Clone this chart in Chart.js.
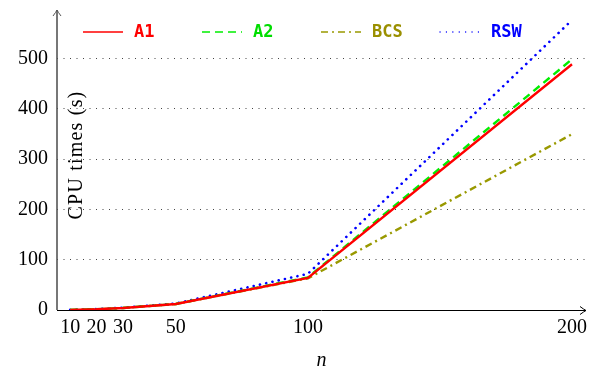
<!DOCTYPE html>
<html>
<head>
<meta charset="utf-8">
<script src="https://cdn.jsdelivr.net/npm/chart.js@4"></script>
<style>
  html, body { margin: 0; padding: 0; background: #fff; }
  #wrap { width: 596px; height: 373px; }
</style>
</head>
<body>
<div id="wrap"><canvas id="myChart" width="596" height="373"></canvas></div>
<script>
// values
var sizes = [10, 20, 30, 50, 100, 200];
var xTicks = [10, 20, 30, 50, 100, 200];
var yTicks = [0, 100, 200, 300, 400, 500];
var seriesNames = ['A1', 'A2', 'BCS', 'RSW'];
var a1 = [0.3, 1.5, 4, 12, 64, 489];
var a2 = [0.3, 1.5, 4, 12, 65, 499];
var bcs = [0.3, 1.5, 4, 12, 63, 350];
var rsw = [0.4, 1.8, 4.5, 13, 72, 577];

var serif = '"Liberation Serif", "DejaVu Serif", serif';

function toPoints(vals) {
    return sizes.map(function(x, i) { return {x: x, y: vals[i]}; });
}

// axes with arrow heads, y title inside plot, legend row inside plot
var extras = {
    id: 'extras',
    afterDatasetsDraw: function(chart) {
        var ctx = chart.ctx;
        var a = chart.chartArea;
        ctx.save();
        // y axis
        ctx.strokeStyle = '#555';
        ctx.lineWidth = 1.6;
        ctx.beginPath();
        ctx.moveTo(a.left, a.bottom);
        ctx.lineTo(a.left, a.top);
        ctx.stroke();
        ctx.beginPath();
        ctx.moveTo(a.left - 4, a.top + 6);
        ctx.quadraticCurveTo(a.left - 1, a.top + 2, a.left, a.top);
        ctx.quadraticCurveTo(a.left + 1, a.top + 2, a.left + 4, a.top + 6);
        ctx.lineWidth = 1;
        ctx.stroke();
        // x axis
        ctx.strokeStyle = '#000';
        ctx.lineWidth = 1;
        ctx.beginPath();
        ctx.moveTo(a.left, a.bottom + 0.5);
        ctx.lineTo(a.right, a.bottom + 0.5);
        ctx.stroke();
        ctx.beginPath();
        ctx.moveTo(a.right - 6, a.bottom - 3.5);
        ctx.quadraticCurveTo(a.right - 2, a.bottom - 0.5, a.right, a.bottom + 0.5);
        ctx.quadraticCurveTo(a.right - 2, a.bottom + 1.5, a.right - 6, a.bottom + 4.5);
        ctx.stroke();

        // y title
        ctx.fillStyle = '#000';
        ctx.font = '20px ' + serif;
        ctx.letterSpacing = '1.2px';
        ctx.textAlign = 'center';
        ctx.textBaseline = 'middle';
        ctx.translate(a.left + 20, 155);
        ctx.rotate(-Math.PI / 2);
        ctx.fillText('CPU times (s)', 0, 0);
        ctx.restore();

        // legend
        ctx.save();
        chart.data.datasets.forEach(function(ds, i) {
            var x0 = 83 + i * 119;
            var y0 = 32;
            ctx.strokeStyle = ds.borderColor;
            ctx.lineWidth = 1.3;
            ctx.lineCap = ds.borderCapStyle || 'butt';
            ctx.setLineDash(ds.borderDash || []);
            ctx.beginPath();
            ctx.moveTo(x0, y0);
            ctx.lineTo(x0 + 40, y0);
            ctx.stroke();
            ctx.fillStyle = ds.textColor;
            ctx.font = 'bold 17px "DejaVu Sans Mono", monospace';
            ctx.textAlign = 'left';
            ctx.textBaseline = 'middle';
            ctx.fillText(ds.label, x0 + 51, y0 + 1);
        });
        ctx.restore();
    }
};

new Chart(document.getElementById('myChart'), {
    type: 'line',
    data: {
        datasets: [
            {
                label: seriesNames[0], data: toPoints(a1),
                borderColor: '#ff0000', textColor: '#ff0000',
                borderWidth: 2.4
            },
            {
                label: seriesNames[1], data: toPoints(a2),
                borderColor: '#00ee00', textColor: '#00dd00',
                borderWidth: 2.4, borderDash: [8, 5]
            },
            {
                label: seriesNames[2], data: toPoints(bcs),
                borderColor: '#999900', textColor: '#9a8f00',
                borderWidth: 2.4, borderDash: [7, 4, 2, 4]
            },
            {
                label: seriesNames[3], data: toPoints(rsw),
                borderColor: '#0000ff', textColor: '#0000ff',
                borderWidth: 2.6, borderDash: [0.1, 6.3], borderCapStyle: 'round'
            }
        ]
    },
    options: {
        responsive: false,
        animation: false,
        layout: { padding: { top: 10, right: 10, left: 0, bottom: 0 } },
        elements: { point: { radius: 0 }, line: { tension: 0 } },
        plugins: { legend: { display: false }, tooltip: { enabled: false } },
        scales: {
            x: {
                type: 'linear',
                min: 5,
                max: 205.3,
                afterBuildTicks: function(scale) {
                    scale.ticks = xTicks.map(function(v) { return {value: v}; });
                },
                afterFit: function(scale) {
                    scale.height = 63;
                    scale.paddingLeft = 0;
                    scale.paddingRight = 0;
                },
                grid: { display: false, drawTicks: false },
                border: { display: false },
                ticks: {
                    autoSkip: false, maxRotation: 0, padding: 6,
                    color: '#000', font: { family: serif, size: 20 }
                },
                title: {
                    display: true, text: 'n', color: '#000',
                    font: { family: serif, size: 20, style: 'italic' },
                    padding: { top: 8, bottom: 0 }
                }
            },
            y: {
                min: 0,
                max: 597,
                afterBuildTicks: function(scale) {
                    scale.ticks = yTicks.map(function(v) { return {value: v}; });
                },
                afterFit: function(scale) {
                    scale.width = 57;
                    scale.paddingTop = 0;
                    scale.paddingBottom = 0;
                },
                grid: {
                    drawTicks: false,
                    lineWidth: 1,
                    color: function(c) { return c.tick && c.tick.value === 0 ? 'rgba(0,0,0,0)' : '#444'; }
                },
                border: { display: false, dash: [1, 5.5] },
                ticks: {
                    padding: 9, color: '#000',
                    font: { family: serif, size: 20 }
                }
            }
        }
    },
    plugins: [extras]
});
</script>
</body>
</html>
